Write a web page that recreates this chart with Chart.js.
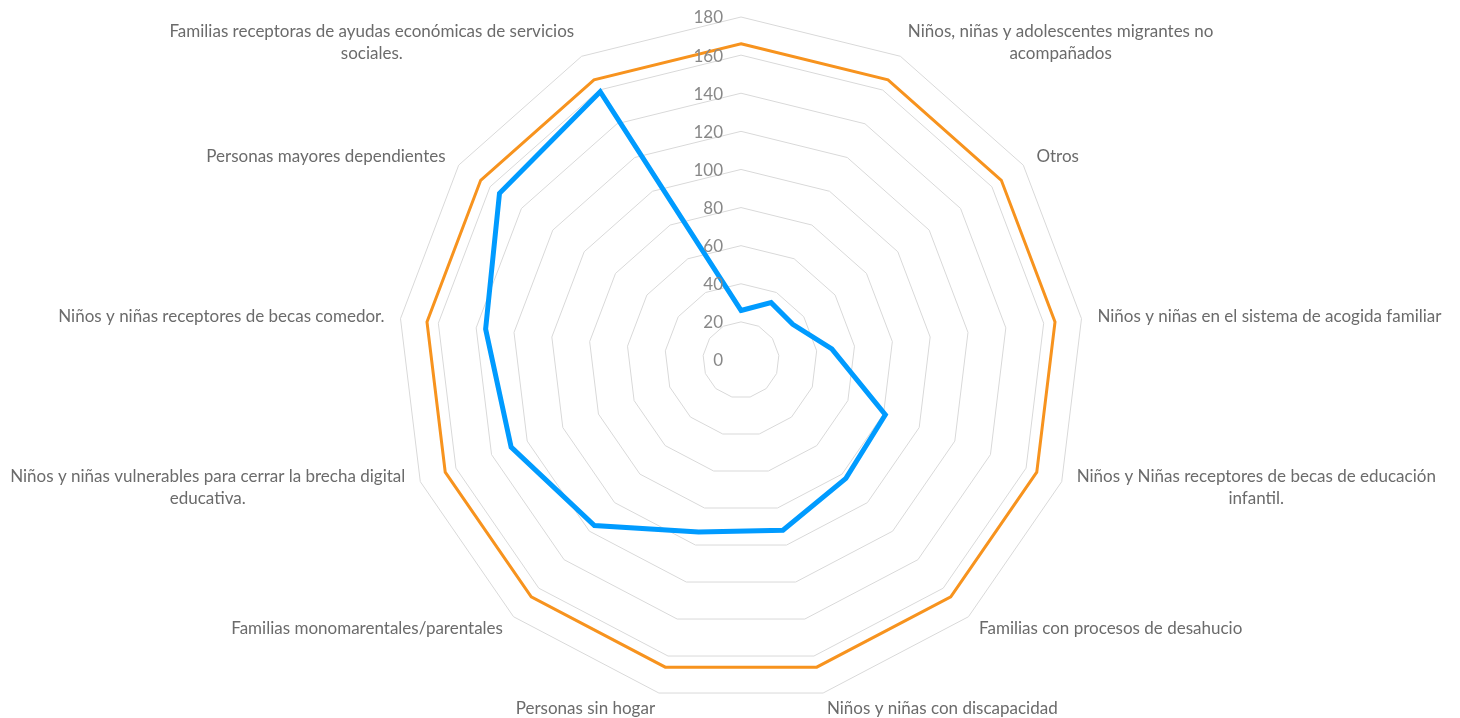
<!DOCTYPE html>
<html>
<head>
<meta charset="utf-8">
<script src="https://cdn.jsdelivr.net/npm/chart.js@4.4.1/dist/chart.umd.min.js"></script>
<style>
  html, body { margin: 0; padding: 0; background: #fff; }
</style>
</head>
<body>
<canvas id="radar" width="1460" height="718"></canvas>
<script>
// categorías (cada una partida en líneas como en el original)
const categorias = [
	[""],
	["Niños, niñas y adolescentes migrantes no", "acompañados"],
	["Otros"],
	["Niños y niñas en el sistema de acogida familiar"],
	["Niños y Niñas receptores de becas de educación", "infantil."],
	["Familias con procesos de desahucio"],
	["Niños y niñas con discapacidad"],
	["Personas sin hogar"],
	["Familias monomarentales/parentales"],
	["Niños y niñas vulnerables para cerrar la brecha digital", "educativa."],
	["Niños y niñas receptores de becas comedor."],
	["Personas mayores dependientes"],
	["Familias receptoras de ayudas económicas de servicios", "sociales."],
];

const serieNaranja = [166, 166, 166, 166, 166, 166, 166, 166, 166, 166, 166, 166, 166];
const serieAzul = [26, 34, 33, 48, 81, 83, 92, 93, 116, 129, 135, 154, 159];

const ejeMin = 0;
const ejeMax = 180;
const ejePaso = 20;

const FUENTE = "17px Lato";

// etiquetas de eje y de categorías, colocadas con la propia escala
const etiquetasPlugin = {
	id: "etiquetas",
	afterDraw(chart) {
		const scale = chart.scales.r;
		const ctx = chart.ctx;
		ctx.save();
		ctx.font = FUENTE;
		ctx.textBaseline = "middle";

		ctx.fillStyle = "#888888";
		ctx.textAlign = "right";
		scale.ticks.forEach((t) => {
			const y = scale.yCenter - scale.getDistanceFromCenterForValue(t.value);
			ctx.fillText(t.label, scale.xCenter - 18, y + 1);
		});

		ctx.fillStyle = "#6b6b6b";
		ctx.textAlign = "center";
		const alto = 22;
		chart.data.labels.forEach((lineas, i) => {
			const p = scale.getPointPosition(i, scale.drawingArea + 16);
			const s = Math.sin(scale.getIndexAngle(i));
			const w = Math.max(...lineas.map((l) => ctx.measureText(l).width));
			let izq = p.x - w / 2;
			if (s > 0.05) izq = p.x;
			else if (s < -0.05) izq = p.x - w;
			const arriba = p.y - (lineas.length * alto) / 2;
			lineas.forEach((l, k) => {
				ctx.fillText(l, izq + w / 2, arriba + alto / 2 + k * alto);
			});
		});
		ctx.restore();
	},
};

new Chart(document.getElementById("radar"), {
	type: "radar",
	data: {
		labels: categorias,
		datasets: [
			{
				label: "Serie 2",
				data: serieAzul,
				borderColor: "#009bff",
				borderWidth: 5,
				fill: false,
			},
			{
				label: "Serie 1",
				data: serieNaranja,
				borderColor: "#f7931e",
				borderWidth: 3,
				fill: false,
			},
		],
	},
	options: {
		responsive: false,
		animation: false,
		layout: {
			padding: { left: 398, right: 376, top: 17, bottom: 15 },
		},
		elements: {
			point: { radius: 0, hoverRadius: 0 },
			line: { tension: 0, borderJoinStyle: "miter" },
		},
		scales: {
			r: {
				min: ejeMin,
				max: ejeMax,
				ticks: { stepSize: ejePaso, display: false },
				grid: { color: "#d9d9d9", lineWidth: 1 },
				angleLines: { display: false },
				pointLabels: { display: false },
			},
		},
		plugins: {
			legend: { display: false },
			tooltip: { enabled: false },
		},
	},
	plugins: [etiquetasPlugin],
});
</script>
</body>
</html>
